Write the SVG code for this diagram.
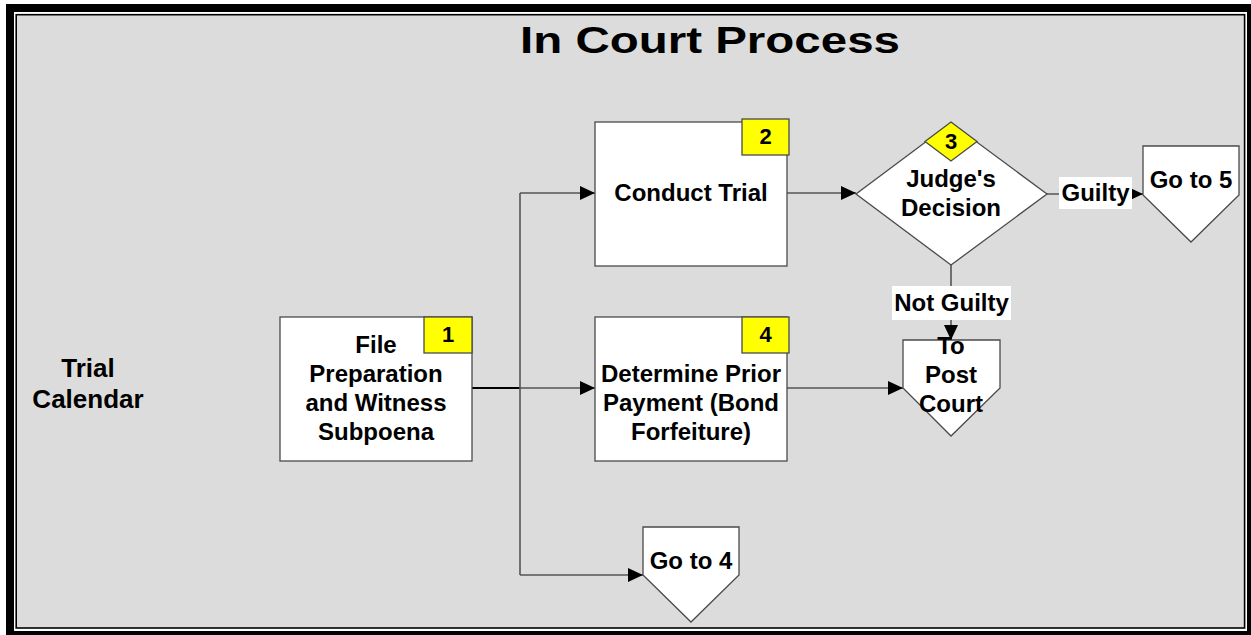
<svg xmlns="http://www.w3.org/2000/svg" width="1251" height="635" viewBox="0 0 1251 635">
  <defs>
    <marker id="arrow" viewBox="0 0 15 14" refX="15" refY="7" markerWidth="15" markerHeight="14" markerUnits="userSpaceOnUse" orient="auto">
      <path d="M0,0 L15,7 L0,14 Z" fill="#000"/>
    </marker>
    <style>
      .lbl { font-family: "Liberation Sans", Arial, sans-serif; font-weight: bold; fill: #000; text-anchor: middle; }
      .node { font-size: 24px; }
      .num { font-size: 22px; }
      .shape { fill: #fff; stroke: #4a4a4a; stroke-width: 1.3; }
      .badge { fill: #ffff00; stroke: #4a4a4a; stroke-width: 1.3; }
      .conn { fill: none; stroke: #555; stroke-width: 1.6; }
      .tag { fill: #fff; }
    </style>
  </defs>

  <!-- double frame and canvas -->
  <rect x="6" y="4" width="1245" height="631" fill="#000"/>
  <rect x="14" y="12" width="1233" height="619" fill="#fff"/>
  <rect x="16.2" y="14.7" width="1228.4" height="613.3" fill="#dcdcdc" stroke="#000" stroke-width="1.6"/>

  <text class="lbl" x="710" y="53" font-size="37" textLength="380" lengthAdjust="spacingAndGlyphs">In Court Process</text>

  <g id="lane-label">
    <text class="lbl" x="88" y="377" font-size="26">Trial</text>
    <text class="lbl" x="88" y="408" font-size="26">Calendar</text>
  </g>

  <!-- connectors -->
  <g id="connectors">
    <path d="M472,388 L520,388" fill="none" stroke="#000" stroke-width="2.2"/>
    <path class="conn" d="M520,388 L595,388" marker-end="url(#arrow)"/>
    <path class="conn" d="M520,193 L520,575"/>
    <path class="conn" d="M520,193 L595,193" marker-end="url(#arrow)"/>
    <path class="conn" d="M520,575 L643,575" marker-end="url(#arrow)"/>
    <path class="conn" d="M787,193 L856,193" marker-end="url(#arrow)"/>
    <path class="conn" d="M1047,194 L1143,194" marker-end="url(#arrow)"/>
    <path class="conn" d="M951,265 L951,340" marker-end="url(#arrow)"/>
    <path class="conn" d="M787,388 L903,388" marker-end="url(#arrow)"/>
    <rect class="tag" x="1059" y="177" width="73" height="32"/>
    <text class="lbl node" x="1095.5" y="201">Guilty</text>
    <rect class="tag" x="892" y="286" width="119" height="34"/>
    <text class="lbl node" x="951.5" y="311">Not Guilty</text>
  </g>

  <g id="node-1">
    <rect class="shape" x="280" y="317" width="192" height="144"/>
    <rect class="badge" x="424" y="317" width="48" height="36"/>
    <text class="lbl num" x="448" y="342">1</text>
    <text class="lbl node" x="376" y="353">File</text>
    <text class="lbl node" x="376" y="382">Preparation</text>
    <text class="lbl node" x="376" y="411">and Witness</text>
    <text class="lbl node" x="376" y="440">Subpoena</text>
  </g>

  <g id="node-2">
    <rect class="shape" x="595" y="122" width="192" height="144"/>
    <rect class="badge" x="742" y="119" width="47" height="36"/>
    <text class="lbl num" x="765.5" y="144">2</text>
    <text class="lbl node" x="691" y="201">Conduct Trial</text>
  </g>

  <g id="node-3">
    <polygon class="shape" points="951,123 1047,194 951,265 856,194"/>
    <polygon class="badge" points="951,122 977,141.5 951,161 925,141.5"/>
    <text class="lbl num" x="951" y="149">3</text>
    <text class="lbl node" x="951" y="187">Judge's</text>
    <text class="lbl node" x="951" y="216">Decision</text>
  </g>

  <g id="node-4">
    <rect class="shape" x="595" y="317" width="192" height="144"/>
    <rect class="badge" x="742" y="317" width="47" height="36"/>
    <text class="lbl num" x="765.5" y="342">4</text>
    <text class="lbl node" x="691" y="382">Determine Prior</text>
    <text class="lbl node" x="691" y="411">Payment (Bond</text>
    <text class="lbl node" x="691" y="440">Forfeiture)</text>
  </g>

  <g id="goto-5">
    <polygon class="shape" points="1143,146 1239,146 1239,195 1191,242 1143,195"/>
    <text class="lbl node" x="1191" y="188">Go to 5</text>
  </g>

  <g id="post-court">
    <polygon class="shape" points="903,340 1000,340 1000,388 951,436 903,388"/>
    <text class="lbl node" x="951" y="354">To</text>
    <text class="lbl node" x="951" y="383">Post</text>
    <text class="lbl node" x="951" y="412">Court</text>
  </g>

  <g id="goto-4">
    <polygon class="shape" points="643,527 739,527 739,575 691,622 643,575"/>
    <text class="lbl node" x="691" y="569">Go to 4</text>
  </g>
</svg>
